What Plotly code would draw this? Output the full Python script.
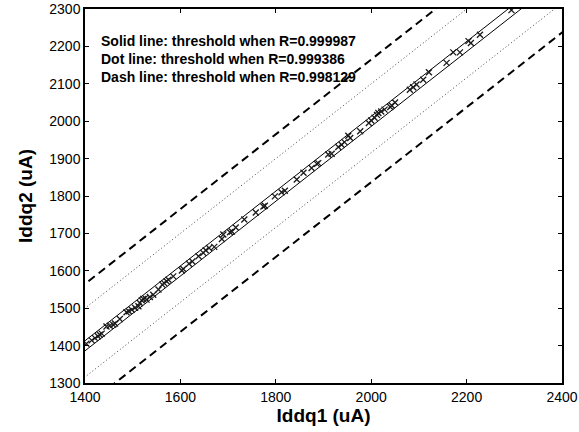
import plotly.graph_objects as go

# Scatter data (Iddq1, Iddq2) in uA
iddq1 = [1403, 1414, 1421, 1427, 1431, 1435, 1445, 1452, 1459, 1463, 1473,
         1487, 1492, 1498, 1505, 1512, 1515, 1519, 1522, 1526, 1529, 1536, 1543,
         1554, 1562, 1566, 1571, 1575, 1585, 1603, 1606, 1618, 1625, 1638,
         1648, 1653, 1660, 1671, 1687, 1690, 1704, 1708, 1716, 1734,
         1758, 1774, 1777, 1798, 1812, 1819,
         1844, 1858, 1875, 1886, 1889, 1910, 1917, 1931, 1938, 1944,
         1952, 1956, 1977, 1995, 2000, 2007, 2012, 2015, 2021, 2028, 2040, 2043, 2050,
         2081, 2088, 2095, 2109, 2121, 2158, 2172, 2186, 2204, 2209, 2228, 2294]
iddq2 = [1405, 1414, 1420, 1425, 1429, 1432, 1451, 1453, 1456, 1459, 1471,
         1489, 1492, 1496, 1501, 1505, 1514, 1521, 1525, 1527, 1523, 1530, 1536,
         1550, 1563, 1567, 1572, 1576, 1585, 1601, 1605, 1619, 1625, 1639,
         1648, 1655, 1661, 1664, 1685, 1697, 1703, 1705, 1716, 1737,
         1756, 1772, 1774, 1799, 1810, 1814,
         1844, 1862, 1875, 1886, 1888, 1911, 1913, 1931, 1937, 1944,
         1961, 1955, 1973, 1995, 2002, 2009, 2017, 2022, 2026, 2031, 2038, 2042, 2050,
         2084, 2091, 2098, 2111, 2131, 2156, 2184, 2184, 2214, 2209, 2231, 2297]

# Threshold line offsets (Iddq2 = Iddq1 + offset)
solid_offsets = [13, -14]
dot_offsets = [100, -84]
dash_offsets = [165, -163]
line_x = [1300, 2500]

x_ticks = [1400, 1600, 1800, 2000, 2200, 2400]
y_ticks = [1300, 1400, 1500, 1600, 1700, 1800, 1900, 2000, 2100, 2200, 2300]

legend_texts = [
    "Solid line: threshold when R=0.999987",
    "Dot line: threshold when R=0.999386",
    "Dash line: threshold when R=0.998129",
]

FONT = "Liberation Sans, Arial, Helvetica, sans-serif"

fig = go.Figure()

for off in dash_offsets:
    fig.add_trace(go.Scatter(x=line_x, y=[v + off for v in line_x], mode="lines",
                             line=dict(color="black", width=2, dash="8px,5px"),
                             showlegend=False, hoverinfo="skip"))
for off in dot_offsets:
    fig.add_trace(go.Scatter(x=line_x, y=[v + off for v in line_x], mode="lines",
                             line=dict(color="#444444", width=1, dash="1px,2.5px"),
                             showlegend=False, hoverinfo="skip"))
for off in solid_offsets:
    fig.add_trace(go.Scatter(x=line_x, y=[v + off for v in line_x], mode="lines",
                             line=dict(color="black", width=1),
                             showlegend=False, hoverinfo="skip"))

fig.add_trace(go.Scatter(x=iddq1, y=iddq2, mode="markers",
                         marker=dict(symbol="x-thin-open", size=6, color="#1a1a1a",
                                     line=dict(color="#1a1a1a", width=1.3)),
                         showlegend=False))

for i, t in enumerate(legend_texts):
    fig.add_annotation(x=0.03, y=0.915 - i * 0.049, xref="paper", yref="paper",
                       text="<b>" + t + "</b>", showarrow=False,
                       xanchor="left", yanchor="middle",
                       font=dict(family=FONT, size=14, color="black"))

axis_common = dict(showgrid=False, zeroline=False, mirror="ticks", ticks="inside",
                   ticklen=4, tickcolor="black", showline=True, linecolor="black",
                   linewidth=1.5, automargin=False,
                   tickfont=dict(family=FONT, size=14, color="black"))

fig.update_xaxes(range=[1400, 2400], tickvals=x_ticks,
                 title=dict(text="<b>Iddq1 (uA)</b>", standoff=3,
                            font=dict(family=FONT, size=19, color="black")),
                 **axis_common)
fig.update_yaxes(range=[1300, 2300], tickvals=y_ticks,
                 title=dict(text="<b>Iddq2 (uA)</b>", standoff=12,
                            font=dict(family=FONT, size=19, color="black")),
                 **axis_common)

fig.update_layout(width=579, height=432,
                  margin=dict(l=85, r=17, t=9, b=49),
                  plot_bgcolor="white", paper_bgcolor="white")

fig.write_html("out.html", config={"displayModeBar": False},
               post_script="document.body.style.margin='0';document.body.style.overflow='hidden';")
